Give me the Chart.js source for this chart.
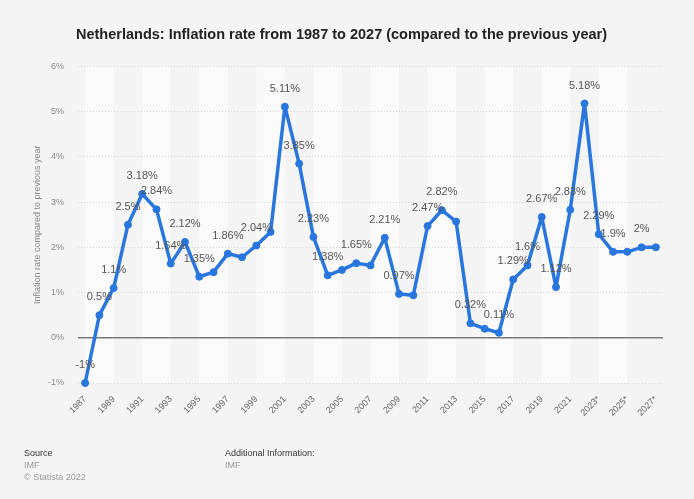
<!DOCTYPE html>
<html>
<head>
<meta charset="utf-8">
<script src="https://cdn.jsdelivr.net/npm/chart.js@4"></script>
<style>
  body { margin: 0; background: #f4f4f4; font-family: Arial, "Liberation Sans", sans-serif; }
  #wrap { position: relative; width: 694px; height: 499px; }
  .foot { position: absolute; font-size: 9px; line-height: 12px; }
  .foot b { font-weight: normal; color: #333; }
  .foot span { color: #999; }
</style>
</head>
<body>
<div id="wrap">
  <canvas id="inflChart" width="694" height="499"></canvas>
  <div class="foot" style="left:24px;top:447px;"><b>Source</b><br><span>IMF</span><br><span>© Statista 2022</span></div>
  <div class="foot" style="left:225px;top:447px;"><b>Additional Information:</b><br><span>IMF</span></div>
</div>
<script>
const years = ['1987','1988','1989','1990','1991','1992','1993','1994','1995','1996',
    '1997','1998','1999','2000','2001','2002','2003','2004','2005','2006',
    '2007','2008','2009','2010','2011','2012','2013','2014','2015','2016',
    '2017','2018','2019','2020','2021','2022*','2023*','2024*','2025*','2026*','2027*'];
const inflation = [-1, 0.5, 1.1, 2.5, 3.18, 2.84, 1.64, 2.12, 1.35, 1.45,
    1.86, 1.78, 2.04, 2.34, 5.11, 3.85, 2.23, 1.38, 1.5, 1.65,
    1.6, 2.21, 0.97, 0.94, 2.47, 2.82, 2.57, 0.32, 0.2, 0.11,
    1.29, 1.6, 2.67, 1.12, 2.83, 5.18, 2.29, 1.9, 1.9, 2, 2];
// labels Statista leaves out where they would collide
const hiddenLabels = ['1996','1998','2000','2005','2007','2010','2013','2015','2025*','2027*'];

const bandsPlugin = {
    id: 'bands',
    beforeDraw(chart) {
        const {ctx, chartArea, scales: {x}} = chart;
        ctx.save();
        ctx.fillStyle = '#fafafa';
        for (let i = 0; i + 2 < years.length; i += 4) {
            const x0 = x.getPixelForValue(i);
            const x1 = x.getPixelForValue(i + 2);
            ctx.fillRect(x0, chartArea.top, x1 - x0, chartArea.bottom - chartArea.top);
        }
        ctx.restore();
    },
    beforeDatasetsDraw(chart) {
        const {ctx, chartArea, scales: {y}} = chart;
        const y0 = y.getPixelForValue(0);
        ctx.save();
        ctx.strokeStyle = '#7a7a7a';
        ctx.lineWidth = 1.5;
        ctx.beginPath();
        ctx.moveTo(chartArea.left, y0);
        ctx.lineTo(chartArea.right, y0);
        ctx.stroke();
        ctx.restore();
    },
    afterDatasetsDraw(chart) {
        const {ctx} = chart;
        const meta = chart.getDatasetMeta(0);
        ctx.save();
        ctx.font = '11px Arial, "Liberation Sans", sans-serif';
        ctx.fillStyle = '#555';
        ctx.textAlign = 'center';
        ctx.textBaseline = 'middle';
        meta.data.forEach((pt, i) => {
            if (hiddenLabels.includes(years[i])) return;
            ctx.fillText(inflation[i] + '%', pt.x, pt.y - 18);
        });
        ctx.restore();
    }
};

new Chart(document.getElementById('inflChart'), {
    type: 'line',
    data: {
        labels: years,
        datasets: [{
            data: inflation,
            borderColor: '#2876de',
            backgroundColor: '#2876de',
            borderWidth: 3.5,
            borderJoinStyle: 'round',
            borderCapStyle: 'round',
            pointRadius: 3.5,
            pointBorderWidth: 1,
            pointHoverRadius: 3.5,
            clip: false,
            tension: 0
        }]
    },
    plugins: [bandsPlugin],
    options: {
        responsive: false,
        animation: false,
        layout: {
            padding: {left: 20, right: 31, top: 0, bottom: 56}
        },
        plugins: {
            legend: {display: false},
            tooltip: {enabled: false},
            title: {
                display: true,
                text: 'Netherlands: Inflation rate from 1987 to 2027 (compared to the previous year)',
                color: '#222',
                font: {size: 14.5, weight: 'bold', family: 'Arial, "Liberation Sans", sans-serif'},
                padding: {top: 26, bottom: 23}
            }
        },
        scales: {
            x: {
                offset: true,
                grid: {display: false},
                border: {display: false},
                afterFit: (scale) => { scale.height = 60; },
                ticks: {
                    autoSkip: false,
                    maxRotation: 45,
                    minRotation: 45,
                    color: '#666',
                    font: {size: 9, family: 'Arial, "Liberation Sans", sans-serif'},
                    callback: function(value, index) {
                        return index % 2 === 0 ? this.getLabelForValue(value) : '';
                    }
                }
            },
            y: {
                min: -1,
                max: 6,
                afterFit: (scale) => { scale.width = 58; },
                border: {display: false, dash: [1, 2]},
                grid: {color: '#d8d8d8', drawTicks: false},
                ticks: {
                    stepSize: 1,
                    padding: 14,
                    color: '#888',
                    font: {size: 9, family: 'Arial, "Liberation Sans", sans-serif'},
                    callback: (v) => v + '%'
                },
                title: {
                    display: true,
                    text: 'Inflation rate compared to previous year',
                    color: '#888',
                    font: {size: 9, family: 'Arial, "Liberation Sans", sans-serif'},
                    padding: {top: 12, bottom: 0}
                }
            }
        }
    }
});
</script>
</body>
</html>
